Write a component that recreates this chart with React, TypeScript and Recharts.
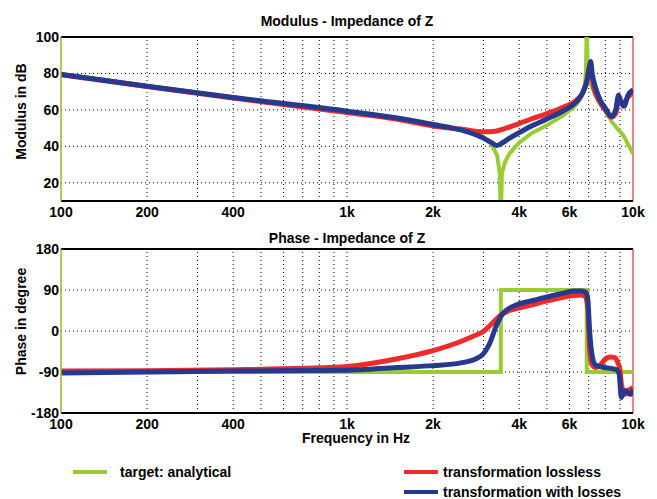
import { LineChart, Line, CartesianGrid, XAxis, YAxis, ReferenceLine, Legend } from "recharts";

const GREEN = "#99cc33";
const RED = "#ee2a2a";
const BLUE = "#25398f";
const FONT = "'Liberation Sans', Arial, sans-serif";

const freqTicks = [100, 200, 400, 1000, 2000, 4000, 6000, 10000];
const minorFreqs = [200, 300, 400, 500, 600, 700, 800, 900, 1000, 2000, 3000, 4000, 5000, 6000, 7000, 8000, 9000];
const modTicks = [20, 40, 60, 80, 100];
const phaseTicks = [-180, -90, 0, 90, 180];

// modulus (dB)
const modGreenF = [100, 150, 200, 300, 400, 600, 1000, 1500, 2000, 2500, 2800, 3000, 3200, 3350, 3420, 3450, 3480, 3560, 3700, 4000, 4400, 5000, 5700, 6200, 6500, 6700, 6800, 6850, 6890, 6930, 7000, 7200, 7460, 8000, 8420, 9250, 10000];
const modGreen = [79.7, 76, 73.1, 69.5, 66.9, 63.3, 59.2, 55.5, 51.5, 49, 47, 45.3, 41, 35, 25, 0, 25, 31, 36, 42, 47, 51.5, 57, 61.5, 65, 70, 75, 82, 110, 85, 78, 72, 67, 60, 53.5, 46, 36];

const modRedF = [100, 200, 400, 1000, 1500, 2000, 2500, 3000, 3300, 3600, 4000, 4400, 5000, 5700, 6300, 6700, 6900, 7050, 7150, 7300, 7600, 8000, 8400, 8700, 8900, 9200, 9600, 10000];
const modRed = [79.3, 72.8, 66.5, 58.5, 54.8, 51.2, 49.5, 48, 48.3, 50, 52.5, 55, 58, 61.5, 65, 70, 76, 84, 80, 72, 65, 60, 56, 58, 65, 63, 67, 70];

const modBlueF = [100, 200, 400, 1000, 1500, 2000, 2500, 2800, 3000, 3200, 3330, 3500, 3700, 4000, 4400, 5000, 5700, 6300, 6700, 6900, 7050, 7110, 7200, 7400, 7700, 8000, 8400, 8700, 8900, 9100, 9300, 9600, 10000];
const modBlue = [79.5, 73, 66.8, 59.3, 55.5, 52, 49, 46.5, 44.5, 42, 40.5, 42, 44.5, 47.5, 51, 55, 59.5, 64, 70, 76, 84, 86.5, 80, 72, 65, 61, 56.5, 60, 68, 64, 62, 68, 71];

// phase (degree)
const phGreenF = [100, 3450, 6890, 10000];
const phGreen = [-90, 90, -90, -90];

const phRedF = [100, 200, 400, 700, 1000, 1500, 2000, 2500, 2800, 3000, 3200, 3450, 3700, 3920, 4400, 5000, 5600, 6200, 6600, 6800, 6950, 7050, 7200, 7400, 7700, 8000, 8300, 8600, 8800, 9000, 9100, 9250, 9400, 9600, 9800, 10000];
const phRed = [-88, -87, -85, -82, -78, -61, -43, -23, -10, -1, 15, 35, 45, 49, 57, 66, 73, 78, 79, 76, 50, -40, -75, -80, -74, -62, -57, -58, -66, -85, -115, -132, -139, -130, -128, -124];

const phBlueF = [100, 200, 400, 1000, 1500, 2000, 2500, 2800, 3000, 3150, 3330, 3500, 3900, 4400, 5000, 5600, 6200, 6600, 6850, 6950, 7050, 7200, 7400, 7900, 8500, 8800, 8950, 9100, 9250, 9400, 9600, 9800, 10000];
const phBlue = [-92, -90, -88, -86, -80, -76, -70, -62, -50, -28, 12, 38, 57, 66, 75, 82, 88, 88, 85, 70, 1, -55, -75, -80, -83, -86, -95, -146, -135, -131, -136, -139, -128];

const zip = (f: number[], v: number[]) => f.map((x, i) => ({ f: x, v: v[i] }));

const fmtFreq = (v: number) => (v >= 1000 ? `${v / 1000}k` : `${v}`);
const tickStyle = { fontSize: 14, fill: "#000", fontFamily: FONT, fontWeight: 700 };
const labelStyle = { fontSize: 14, fill: "#000", fontFamily: FONT, fontWeight: 700 };

function LegendBox() {
  const item = (color: string, label: string, x: number, y: number, gap: number) => (
    <div style={{ position: "absolute", left: x, top: y, height: 16, display: "flex", alignItems: "center" }}>
      <span style={{ width: 34, height: 4, background: color, display: "inline-block", marginRight: gap }} />
      <span style={{ fontSize: 14, fontWeight: 700, lineHeight: "16px" }}>{label}</span>
    </div>
  );
  return (
    <div style={{ position: "relative", width: 657, height: 40, fontFamily: FONT, color: "#000" }}>
      {item(GREEN, "target: analytical", 73, 9, 13)}
      {item(RED, "transformation lossless", 404, 9, 5)}
      {item(BLUE, "transformation with losses", 404, 29, 5)}
    </div>
  );
}

function Panel({ top, height, bottomMargin, domain, ticks, ylabel, ylabelDy, series, legend, xlabel }: any) {
  return (
    <div style={{ position: "absolute", left: 0, top: 0 }}>
      <LineChart width={657} height={height} margin={{ top, right: 24, left: 0, bottom: bottomMargin }}>
        <CartesianGrid vertical={false} stroke="#000" strokeDasharray="1 3" />
        {minorFreqs.map(m => (
          <ReferenceLine key={m} x={m} stroke="#000" strokeDasharray="1 3" />
        ))}
        <XAxis dataKey="f" type="number" scale="log" domain={[100, 10000]} ticks={freqTicks}
          allowDataOverflow tickFormatter={fmtFreq} tick={tickStyle} tickLine={false} tickSize={0} tickMargin={6}
          axisLine={{ stroke: "#000", strokeWidth: 2 }} height={30}
          label={xlabel ? { value: xlabel, position: "insideBottom", offset: 0, dx: 9, style: labelStyle } : undefined} />
        <YAxis type="number" domain={domain} ticks={ticks} allowDataOverflow width={61}
          tick={tickStyle} tickLine={false} tickSize={0} tickMargin={2}
          axisLine={{ stroke: "#b3ac1a", strokeWidth: 1.5 }}
          label={{ value: ylabel, angle: -90, position: "center", dx: -9, dy: ylabelDy, style: labelStyle }} />
        <ReferenceLine y={domain[1]} stroke="#000" strokeWidth={2} />
        <ReferenceLine x={10000} stroke="#e53030" strokeWidth={1.2} />
        {series.map((s: any) => (
          <Line key={s.name} data={s.data} dataKey="v" name={s.name} type={s.type} stroke={s.color}
            strokeWidth={s.width} dot={false} activeDot={false} isAnimationActive={false} />
        ))}
        {legend && (
          <Legend content={<LegendBox />} wrapperStyle={{ position: "absolute", left: 0, top: 455, width: 657, height: 40 }} />
        )}
      </LineChart>
    </div>
  );
}

const titleStyle: any = {
  position: "absolute", left: 61, width: 572, textAlign: "center",
  fontFamily: FONT, fontSize: 14, fontWeight: 700, color: "#000", lineHeight: "16px",
};

export default function App() {
  const modSeries = [
    { name: "target: analytical", data: zip(modGreenF, modGreen), color: GREEN, width: 4, type: "linear" },
    { name: "transformation lossless", data: zip(modRedF, modRed), color: RED, width: 5, type: "monotone" },
    { name: "transformation with losses", data: zip(modBlueF, modBlue), color: BLUE, width: 5, type: "monotone" },
  ];
  const phSeries = [
    { name: "target: analytical", data: zip(phGreenF, phGreen), color: GREEN, width: 4, type: "stepAfter" },
    { name: "transformation lossless", data: zip(phRedF, phRed), color: RED, width: 5, type: "monotone" },
    { name: "transformation with losses", data: zip(phBlueF, phBlue), color: BLUE, width: 5, type: "monotone" },
  ];
  return (
    <div style={{ position: "absolute", left: 0, top: 0, width: 657, height: 499, background: "#fff" }}>
      <div style={{ ...titleStyle, top: 13 }}>Modulus - Impedance of Z</div>
      <div style={{ ...titleStyle, top: 230 }}>Phase - Impedance of Z</div>
      <Panel top={37} height={230} bottomMargin={-1} domain={[10, 100]} ticks={modTicks}
        ylabel="Modulus in dB" ylabelDy={-7.5} series={modSeries} />
      <Panel top={249} height={499} bottomMargin={16} domain={[-180, 180]} ticks={phaseTicks}
        ylabel="Phase  in degree" ylabelDy={-9.5} series={phSeries} legend xlabel="Frequency in Hz" />
    </div>
  );
}
